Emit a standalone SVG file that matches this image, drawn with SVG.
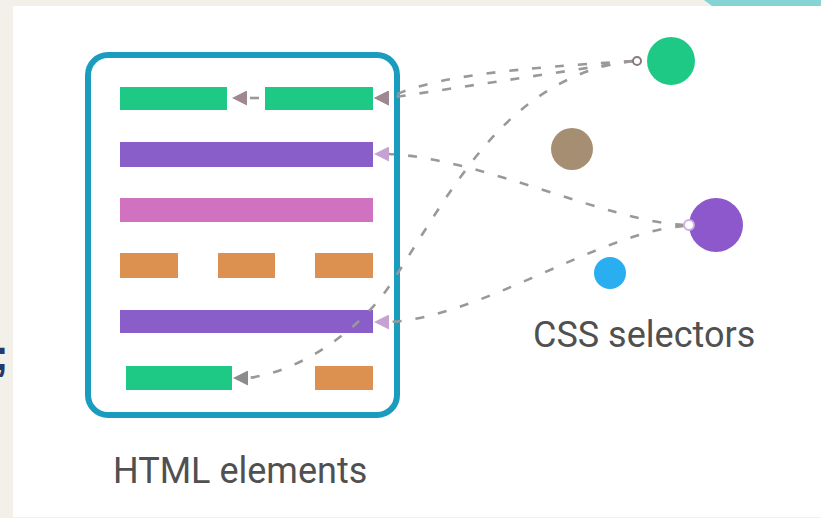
<svg xmlns="http://www.w3.org/2000/svg" width="821" height="518" viewBox="0 0 821 518">
  <style>
    .bar-green { fill: #1ec985; }
    .bar-purple { fill: #8a5ec8; }
    .bar-pink { fill: #d072c0; }
    .bar-orange { fill: #dd9150; }
    .conn { fill: none; stroke: #9b9898; stroke-width: 2.6; stroke-dasharray: 9 14; }
    .label { font-family: Roboto, "Liberation Sans", sans-serif; font-size: 36px; fill: #505050; }
    .port { fill: #ffffff; stroke-width: 2; }
  </style>
  <defs>
    <marker id="ah-mauve" viewBox="0 0 10 10" refX="10" refY="5" markerWidth="15" markerHeight="15" markerUnits="userSpaceOnUse" orient="0">
      <path d="M0,5 L10,0 L10,10 Z" fill="#a08890"/>
    </marker>
    <marker id="ah-lilac" viewBox="0 0 10 10" refX="10" refY="5" markerWidth="15" markerHeight="15" markerUnits="userSpaceOnUse" orient="0">
      <path d="M0,5 L10,0 L10,10 Z" fill="#c6a2d2"/>
    </marker>
    <marker id="ah-grey" viewBox="0 0 10 10" refX="10" refY="5" markerWidth="15" markerHeight="15" markerUnits="userSpaceOnUse" orient="0">
      <path d="M0,5 L10,0 L10,10 Z" fill="#8c8c8c"/>
    </marker>
  </defs>

  <!-- page background -->
  <rect x="0" y="0" width="821" height="518" fill="#f3efe9"/>
  <rect x="13" y="6" width="808" height="511" fill="#ffffff"/>
  <polygon points="704,0 821,0 821,6 712,6" fill="#84d4d4"/>
  <text x="-6" y="370" font-family="'Liberation Sans', sans-serif" font-weight="bold" font-size="44" fill="#233a6b">;</text>

  <!-- HTML elements container -->
  <g id="html-elements">
    <rect x="88" y="55" width="309" height="360" rx="20" ry="20" fill="none" stroke="#1a9cbf" stroke-width="6"/>
    <text class="label" x="113" y="483">HTML elements</text>
  </g>

  <g id="row1-left"><rect class="bar-green" x="120" y="87" width="107" height="23"/></g>
  <g id="row1-right"><rect class="bar-green" x="265" y="87" width="108" height="23"/></g>
  <g id="row2"><rect class="bar-purple" x="120" y="142" width="253" height="25"/></g>
  <g id="row3"><rect class="bar-pink" x="120" y="198" width="253" height="24"/></g>
  <g id="row4">
    <rect class="bar-orange" x="120" y="253" width="58" height="25"/>
    <rect class="bar-orange" x="218" y="253" width="57" height="25"/>
    <rect class="bar-orange" x="315" y="253" width="58" height="25"/>
  </g>
  <g id="row5"><rect class="bar-purple" x="120" y="310" width="253" height="23"/></g>
  <g id="row6-left"><rect class="bar-green" x="126" y="366" width="106" height="24"/></g>
  <g id="row6-right"><rect class="bar-orange" x="315" y="366" width="58" height="24"/></g>

  <!-- CSS selectors -->
  <g id="selector-green"><circle cx="671" cy="61" r="24" fill="#1ec985"/></g>
  <g id="selector-brown"><circle cx="572" cy="149" r="21" fill="#a68e72"/></g>
  <g id="selector-purple"><circle cx="716" cy="225" r="27" fill="#8c58cc"/></g>
  <g id="selector-blue"><circle cx="610" cy="273" r="16" fill="#29aef0"/></g>
  <g id="css-selectors-label"><text class="label" x="533" y="347">CSS selectors</text></g>

  <!-- connectors -->
  <g id="connectors">
    <path class="conn" d="M633,61 L389,98" marker-end="url(#ah-mauve)"/>
    <path class="conn" d="M633,61 C520,68 430,76 389,98" marker-end="url(#ah-mauve)"/>
    <path class="conn" d="M259,98 L247,98" marker-end="url(#ah-mauve)"/>
    <path class="conn" d="M633,61 C580,66 530,95 490,140 S420,240 390,285 S300,372 248,378" marker-end="url(#ah-grey)"/>
    <path class="conn" d="M684,225 C610,222 480,158 389,154" marker-end="url(#ah-lilac)"/>
    <path class="conn" d="M684,226 C600,232 480,318 389,322" marker-end="url(#ah-lilac)"/>
    <circle class="port" cx="637" cy="61" r="4" stroke="#8a7a80"/>
    <circle class="port" cx="689" cy="225" r="5" stroke="#d0b0e0"/>
  </g>
</svg>
